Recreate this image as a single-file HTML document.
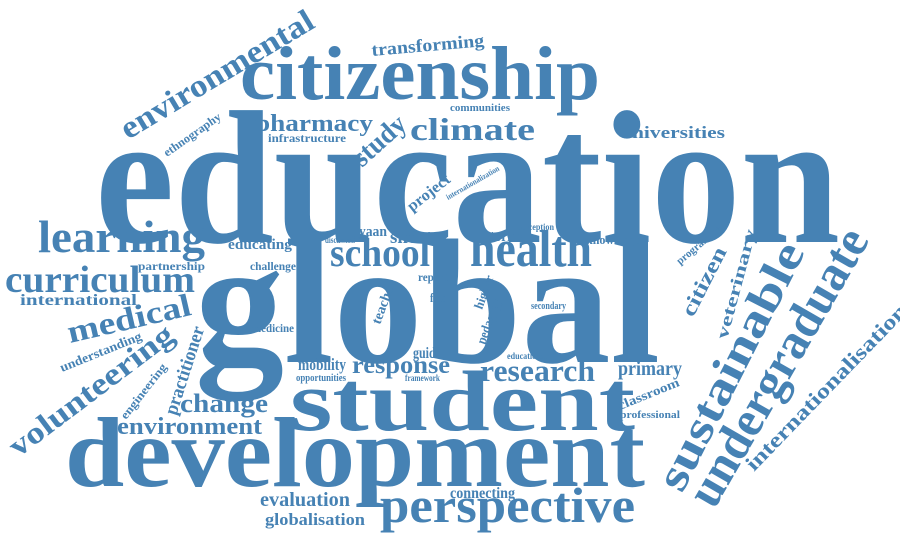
<!DOCTYPE html>
<html><head><meta charset="utf-8"><style>
html,body{margin:0;padding:0;background:#fff;width:900px;height:538px;overflow:hidden}
svg text{font-family:"Liberation Serif",serif;font-weight:bold;fill:#4682b4}
</style></head><body>
<svg width="900" height="538" viewBox="0 0 900 538">
<text x="95" y="242" font-size="190" textLength="745" lengthAdjust="spacingAndGlyphs">education</text>
<text x="195" y="362" font-size="178" textLength="465" lengthAdjust="spacingAndGlyphs">global</text>
<text x="290" y="430" font-size="86" textLength="345" lengthAdjust="spacingAndGlyphs">student</text>
<text x="65" y="486" font-size="100" textLength="580" lengthAdjust="spacingAndGlyphs">development</text>
<text x="240" y="99" font-size="76" textLength="360" lengthAdjust="spacingAndGlyphs">citizenship</text>
<text x="380" y="522" font-size="50" textLength="255" lengthAdjust="spacingAndGlyphs">perspective</text>
<text x="38" y="252" font-size="46" textLength="167" lengthAdjust="spacingAndGlyphs">learning</text>
<text x="5" y="292" font-size="38" textLength="190" lengthAdjust="spacingAndGlyphs">curriculum</text>
<text x="20" y="305" font-size="16" textLength="117" lengthAdjust="spacingAndGlyphs">international</text>
<text x="70" y="343" font-size="32" textLength="126" lengthAdjust="spacingAndGlyphs" transform="rotate(-13 70 343)">medical</text>
<text x="128" y="140" font-size="32" textLength="220" lengthAdjust="spacingAndGlyphs" transform="rotate(-31 128 140)">environmental</text>
<text x="372" y="56" font-size="18" textLength="113" lengthAdjust="spacingAndGlyphs" transform="rotate(-5 372 56)">transforming</text>
<text x="255" y="131" font-size="24" textLength="118" lengthAdjust="spacingAndGlyphs">pharmacy</text>
<text x="268" y="142" font-size="12" textLength="78" lengthAdjust="spacingAndGlyphs">infrastructure</text>
<text x="362" y="168" font-size="28" textLength="62" lengthAdjust="spacingAndGlyphs" transform="rotate(-42 362 168)">study</text>
<text x="410" y="140" font-size="32" textLength="125" lengthAdjust="spacingAndGlyphs">climate</text>
<text x="620" y="138" font-size="17" textLength="105" lengthAdjust="spacingAndGlyphs">universities</text>
<text x="450" y="111" font-size="10" textLength="60" lengthAdjust="spacingAndGlyphs">communities</text>
<text x="167" y="157" font-size="12" textLength="67" lengthAdjust="spacingAndGlyphs" transform="rotate(-35 167 157)">ethnography</text>
<text x="412" y="212" font-size="16" textLength="50" lengthAdjust="spacingAndGlyphs" transform="rotate(-38 412 212)">project</text>
<text x="448" y="200" font-size="8" textLength="60" lengthAdjust="spacingAndGlyphs" transform="rotate(-30 448 200)">internationalization</text>
<text x="228" y="249" font-size="15" textLength="64" lengthAdjust="spacingAndGlyphs">educating</text>
<text x="250" y="270" font-size="12" textLength="46" lengthAdjust="spacingAndGlyphs">challenge</text>
<text x="138" y="270" font-size="12" textLength="67" lengthAdjust="spacingAndGlyphs">partnership</text>
<text x="330" y="266" font-size="40" textLength="100" lengthAdjust="spacingAndGlyphs">school</text>
<text x="470" y="266" font-size="52" textLength="122" lengthAdjust="spacingAndGlyphs">health</text>
<text x="586" y="244" font-size="13" textLength="55" lengthAdjust="spacingAndGlyphs">knowledge</text>
<text x="352" y="236" font-size="15" textLength="35" lengthAdjust="spacingAndGlyphs">gyaan</text>
<text x="390" y="243" font-size="19" textLength="42" lengthAdjust="spacingAndGlyphs">short</text>
<text x="325" y="243" font-size="9" textLength="30" lengthAdjust="spacingAndGlyphs">discussion</text>
<text x="485" y="241" font-size="16" textLength="37" lengthAdjust="spacingAndGlyphs">stories</text>
<text x="517" y="230" font-size="9" textLength="37" lengthAdjust="spacingAndGlyphs">perception</text>
<text x="380" y="325" font-size="14" textLength="45" lengthAdjust="spacingAndGlyphs" transform="rotate(-70 380 325)">teacher</text>
<text x="482" y="310" font-size="13" textLength="35" lengthAdjust="spacingAndGlyphs" transform="rotate(-70 482 310)">higher</text>
<text x="485" y="345" font-size="14" textLength="48" lengthAdjust="spacingAndGlyphs" transform="rotate(-70 485 345)">pedagogy</text>
<text x="418" y="281" font-size="12" textLength="30" lengthAdjust="spacingAndGlyphs">report</text>
<text x="430" y="302" font-size="13" textLength="20" lengthAdjust="spacingAndGlyphs">final</text>
<text x="682" y="494" font-size="46" textLength="272" lengthAdjust="spacingAndGlyphs" transform="rotate(-63 682 494)">sustainable</text>
<text x="714" y="510" font-size="50" textLength="312" lengthAdjust="spacingAndGlyphs" transform="rotate(-60 714 510)">undergraduate</text>
<text x="754" y="472" font-size="21" textLength="222" lengthAdjust="spacingAndGlyphs" transform="rotate(-46 754 472)">internationalisation</text>
<text x="693" y="318" font-size="21" textLength="75" lengthAdjust="spacingAndGlyphs" transform="rotate(-63 693 318)">citizen</text>
<text x="727" y="340" font-size="17" textLength="113" lengthAdjust="spacingAndGlyphs" transform="rotate(-75 727 340)">veterinary</text>
<text x="680" y="265" font-size="11" textLength="55" lengthAdjust="spacingAndGlyphs" transform="rotate(-40 680 265)">programme</text>
<text x="18" y="458" font-size="31" textLength="198" lengthAdjust="spacingAndGlyphs" transform="rotate(-37 18 458)">volunteering</text>
<text x="62" y="372" font-size="13" textLength="87" lengthAdjust="spacingAndGlyphs" transform="rotate(-22 62 372)">understanding</text>
<text x="126" y="420" font-size="12" textLength="67" lengthAdjust="spacingAndGlyphs" transform="rotate(-52 126 420)">engineering</text>
<text x="176" y="416" font-size="19" textLength="92" lengthAdjust="spacingAndGlyphs" transform="rotate(-72 176 416)">practitioner</text>
<text x="180" y="412" font-size="26" textLength="88" lengthAdjust="spacingAndGlyphs">change</text>
<text x="117" y="434" font-size="24" textLength="145" lengthAdjust="spacingAndGlyphs">environment</text>
<text x="252" y="332" font-size="12" textLength="42" lengthAdjust="spacingAndGlyphs">medicine</text>
<text x="298" y="370" font-size="17" textLength="48" lengthAdjust="spacingAndGlyphs">mobility</text>
<text x="296" y="381" font-size="10" textLength="50" lengthAdjust="spacingAndGlyphs">opportunities</text>
<text x="352" y="373" font-size="25" textLength="98" lengthAdjust="spacingAndGlyphs">response</text>
<text x="413" y="358" font-size="16" textLength="28" lengthAdjust="spacingAndGlyphs">guide</text>
<text x="405" y="381" font-size="9" textLength="35" lengthAdjust="spacingAndGlyphs">framework</text>
<text x="480" y="381" font-size="31" textLength="115" lengthAdjust="spacingAndGlyphs">research</text>
<text x="507" y="359" font-size="9" textLength="40" lengthAdjust="spacingAndGlyphs">educational</text>
<text x="531" y="309" font-size="10" textLength="35" lengthAdjust="spacingAndGlyphs">secondary</text>
<text x="618" y="375" font-size="20" textLength="64" lengthAdjust="spacingAndGlyphs">primary</text>
<text x="620" y="410" font-size="13" textLength="65" lengthAdjust="spacingAndGlyphs" transform="rotate(-22 620 410)">classroom</text>
<text x="620" y="418" font-size="11" textLength="60" lengthAdjust="spacingAndGlyphs">professional</text>
<text x="260" y="506" font-size="20" textLength="90" lengthAdjust="spacingAndGlyphs">evaluation</text>
<text x="265" y="525" font-size="17" textLength="100" lengthAdjust="spacingAndGlyphs">globalisation</text>
<text x="450" y="498" font-size="16" textLength="65" lengthAdjust="spacingAndGlyphs">connecting</text>
</svg>
</body></html>
